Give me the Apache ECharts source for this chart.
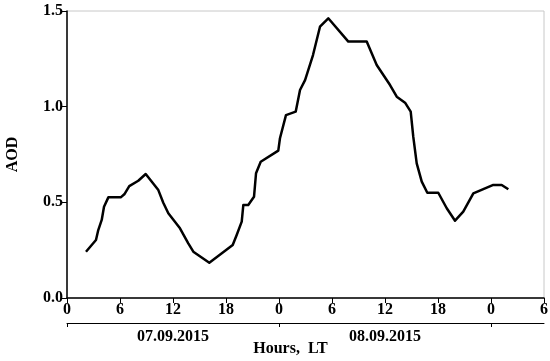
<!DOCTYPE html>
<html>
<head>
<meta charset="utf-8">
<script src="https://cdn.jsdelivr.net/npm/echarts@6/dist/echarts.min.js"></script>
<style>html,body{margin:0;padding:0;background:#fff}#c{width:550px;height:361px}</style>
</head>
<body>
<div id="c"></div>
<script>
const hours = [2.15,3.28,3.54,3.93,4.19,4.68,6.08,6.49,7.05,8.07,8.91,10.34,10.90,11.47,12.79,13.73,14.30,16.11,18.76,19.21,19.78,19.96,20.52,21.17,21.40,21.93,23.92,24.11,24.79,25.89,26.38,26.95,27.85,28.64,29.58,31.85,33.93,35.06,36.57,37.33,38.27,38.91,39.20,39.59,40.16,40.79,42.03,42.99,43.93,44.86,46.00,48.26,49.21,49.96];
const aod = [0.242,0.303,0.355,0.408,0.477,0.526,0.526,0.542,0.585,0.613,0.648,0.564,0.498,0.443,0.364,0.286,0.242,0.184,0.277,0.329,0.399,0.486,0.486,0.529,0.652,0.712,0.770,0.835,0.956,0.974,1.087,1.139,1.27,1.418,1.462,1.340,1.340,1.218,1.113,1.052,1.021,0.974,0.843,0.704,0.608,0.550,0.550,0.469,0.404,0.451,0.547,0.591,0.591,0.568];
const dayTicks = [0, 24, 48];
const dayLabelPos = [12, 36];
const dayLabels = ['07.09.2015', '08.09.2015'];
const yTicks = [0, 0.5, 1.0, 1.5];

const font = 'Liberation Serif, Times New Roman, serif';
const chart = echarts.init(document.getElementById('c'), null, {renderer: 'canvas'});
chart.setOption({
  animation: false,
  backgroundColor: '#fff',
  grid: {left: 67, right: 6, top: 11, bottom: 63, containLabel: false, outerBoundsMode: 'none',
    show: true, borderColor: '#c8c8c8', borderWidth: 1, backgroundColor: 'transparent'},
  xAxis: [
    {
      type: 'value', min: 0, max: 54, interval: 6, position: 'bottom',
      axisLine: {show: true, lineStyle: {color: '#000', width: 1.5}},
      axisTick: {show: true, length: 5, lineStyle: {color: '#000', width: 1}},
      axisLabel: {color: '#000', fontFamily: font, fontWeight: 'bold', fontSize: 16, margin: 4,
        formatter: v => String(v % 24)},
      splitLine: {show: false}
    },
    {
      type: 'value', min: 0, max: 54, position: 'bottom', offset: 25,
      axisLine: {show: true, onZero: false, lineStyle: {color: '#000', width: 1}},
      axisTick: {show: true, length: 4, inside: false, customValues: dayTicks, lineStyle: {color: '#000', width: 1}},
      axisLabel: {show: true, customValues: dayLabelPos, color: '#000', fontFamily: font, fontWeight: 'bold', fontSize: 16, margin: 6,
        formatter: v => dayLabels[dayLabelPos.indexOf(v)] || ''},
      splitLine: {show: false},
      name: 'Hours,  LT', nameLocation: 'middle', nameGap: 18, nameMoveOverlap: false,
      nameTextStyle: {color: '#000', fontFamily: font, fontWeight: 'bold', fontSize: 16, padding: [0, 30, 0, 0]}
    }
  ],
  yAxis: {
    type: 'value', min: 0, max: 1.5, interval: 0.5,
    axisLine: {show: true, lineStyle: {color: '#000', width: 1.5}},
    axisTick: {show: true, length: 5, lineStyle: {color: '#000', width: 1}},
    axisLabel: {color: '#000', fontFamily: font, fontWeight: 'bold', fontSize: 16, margin: 4,
      formatter: v => v.toFixed(1)},
    splitLine: {show: false},
    name: 'AOD', nameLocation: 'middle', nameGap: 46, nameRotate: 90, nameMoveOverlap: false,
    nameTextStyle: {color: '#000', fontFamily: font, fontWeight: 'bold', fontSize: 16}
  },
  series: [{
    type: 'line', xAxisIndex: 0,
    data: hours.map((h, i) => [h, aod[i]]),
    showSymbol: false, symbol: 'none',
    lineStyle: {color: '#000', width: 2.5, join: 'round'}
  }]
});
</script>
</body>
</html>
